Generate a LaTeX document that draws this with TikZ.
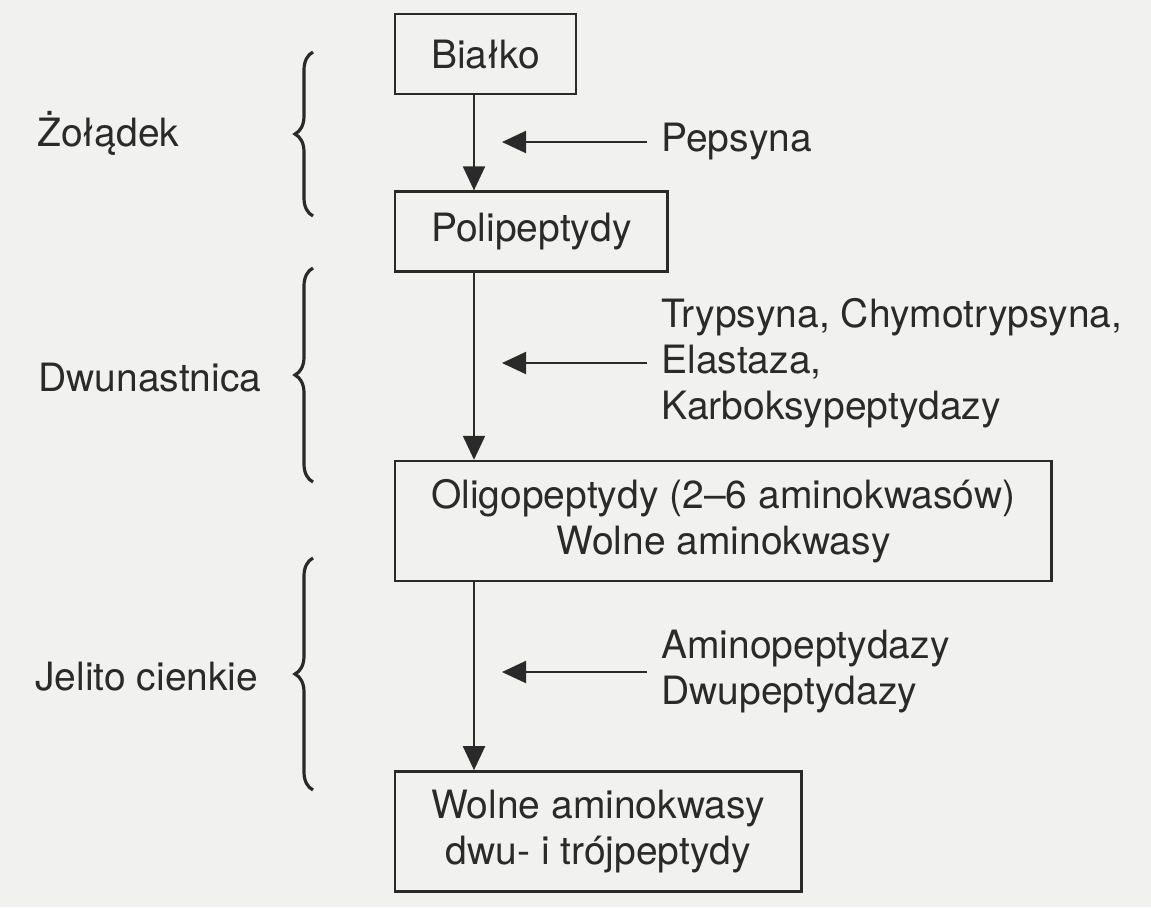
\documentclass[tikz,border=0pt]{standalone}
\usepackage{fontspec}
\setmainfont{TeX Gyre Heros}
\usepackage{tikz}
\usetikzlibrary{positioning,arrows.meta,decorations.pathreplacing}

\definecolor{paper}{RGB}{241,241,239}
\definecolor{ink}{RGB}{42,42,42}

\begin{document}
\begin{tikzpicture}[
  x=0.5pt, y=-0.5pt,
  font=\fontsize{19.5}{23}\selectfont,
  every node/.style={text=ink},
  stage/.style={draw=ink, line width=1.2pt, align=center, inner xsep=18pt, inner ysep=0pt, minimum height=40pt},
  stage2/.style={stage, minimum height=60pt},
  enzyme/.style={align=left, inner xsep=7pt, inner ysep=0pt, anchor=west},
  organ/.style={anchor=west, inner sep=0pt},
  flow/.style={-{Triangle[length=12pt, width=11pt]}, ink, line width=1pt},
  feed/.style={flow, shorten >=14pt},
  organbrace/.style={decorate, decoration={brace, amplitude=9pt}, ink, line width=1.6pt}
]
% ---- page ----
\fill[paper] (0,0) rectangle (1151,907);
\useasboundingbox (0,0) rectangle (1151,907);
\coordinate (spine) at (474,0);
% ---- stages of digestion ----
\node[stage, anchor=north west] (bialko) at (394,13) {Białko};
\node[stage, below=47.5pt of bialko.south west, anchor=north west] (poli) {Polipeptydy};
\node[stage2, below=93.5pt of poli.south west, anchor=north west] (oligo) {Oligopeptydy (2--6 aminokwasów)\\Wolne aminokwasy};
\node[stage2, below=94pt of oligo.south west, anchor=north west] (wolne) {Wolne aminokwasy\\dwu- i trójpeptydy};
% ---- enzymes ----
\node[enzyme] (pep) at (647,142) {Pepsyna};
\node[enzyme] (tryp) at (647,363) {Trypsyna, Chymotrypsyna,\\Elastaza,\\Karboksypeptydazy};
\node[enzyme] (amino) at (647,672) {Aminopeptydazy\\Dwupeptydazy};
% ---- organs ----
\node[organ] (zol) at (37,133) {Żołądek};
\node[organ] (dwu) at (38,378) {Dwunastnica};
\node[organ] (jel) at (35,677) {Jelito cienkie};
\coordinate (zolTop) at (313,52);
\coordinate (zolBot) at (313,216);
\coordinate (dwuTop) at (313,268);
\coordinate (dwuBot) at (313,482);
\coordinate (jelTop) at (313,558);
\coordinate (jelBot) at (313,790);
\draw[organbrace] (zolBot) -- (zolTop);
\draw[organbrace] (dwuBot) -- (dwuTop);
\draw[organbrace] (jelBot) -- (jelTop);
% ---- main path ----
\draw[flow] (bialko.south -| spine) -- (poli.north -| spine);
\draw[flow] (poli.south -| spine) -- (oligo.north -| spine);
\draw[flow] (oligo.south -| spine) -- (wolne.north -| spine);
% ---- enzymes acting ----
\draw[feed] (pep.west) -- (pep.west -| spine);
\draw[feed] (tryp.west) -- (tryp.west -| spine);
\draw[feed] (amino.west) -- (amino.west -| spine);
\end{tikzpicture}
\end{document}
